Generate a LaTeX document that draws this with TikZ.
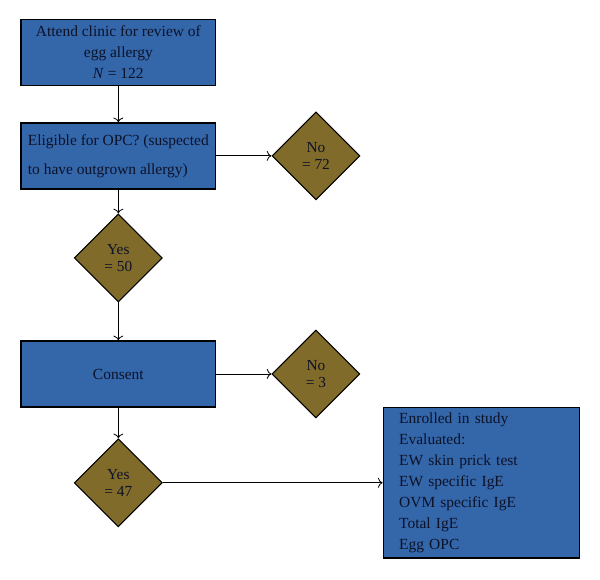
\documentclass[tikz,border=0pt]{standalone}
\usepackage{fontspec}
\setmainfont{Liberation Serif}
\usepackage{tikz}
\usetikzlibrary{shapes.geometric, arrows, arrows.meta}
\tikzstyle{arrow} = [semithick,->,>={To[length=3.5pt,width=7.5pt]}]
\definecolor{boxblue}{RGB}{52,102,170}
\definecolor{decolive}{RGB}{128,107,42}
\definecolor{inkblue}{RGB}{12,18,40}

\begin{document}
\begin{tikzpicture}[font=\fontsize{11.6}{15.8}\selectfont]
   \tikzset{block/.style= {draw, rectangle, line width=1pt, fill=boxblue, text=inkblue, align=center,minimum width=5.14cm,minimum height=1.74cm},
   dec/.style={draw, diamond, line width=0.8pt, fill=decolive, text=inkblue, align=center, inner sep=0pt,
   minimum width=2.32cm, minimum height=2.32cm, font=\fontsize{11.5}{12.8}\selectfont},
   }
 \useasboundingbox (0,0) rectangle (15.82,-15.267);

 \node [block] (att) at (3.12,-1.38) {Attend clinic for review of\\egg allergy\\\textit{N} = 122};
 \node [block, below of= att, yshift=-1.73cm, align=left] (elig) {Eligible for OPC? (suspected\\[6pt]to have outgrown allergy)};
 \node [dec, right of= elig, xshift=4.21cm] (no72) {No\\= 72};

 \node [dec, below of= elig, yshift=-1.69cm] (yes50) {Yes\\= 50};
 \node [block, below of= yes50, yshift=-2.06cm] (cons) {Consent};
 \node [dec, right of= cons, xshift=4.21cm] (no3) {No\\= 3};

 \node [dec, below of= cons, yshift=-1.87cm] (yes47) {Yes\\= 47};
 \node [block, right of= yes47, xshift=8.57cm, align=left, text width=4.33cm, inner xsep=0.42cm, minimum height=3.96cm] (enr) {Enrolled in study\\Evaluated:\\EW skin prick test\\EW specific IgE\\OVM specific IgE\\Total IgE\\Egg OPC};

 \draw [arrow] (att) -- (elig);
 \draw [arrow] (elig) -- (no72);
 \draw [arrow] (elig) -- (yes50);
 \draw [arrow] (yes50) -- (cons);
 \draw [arrow] (cons) -- (no3);
 \draw [arrow] (cons) -- (yes47);
 \draw [arrow] (yes47) -- (enr);
\end{tikzpicture}
\end{document}
